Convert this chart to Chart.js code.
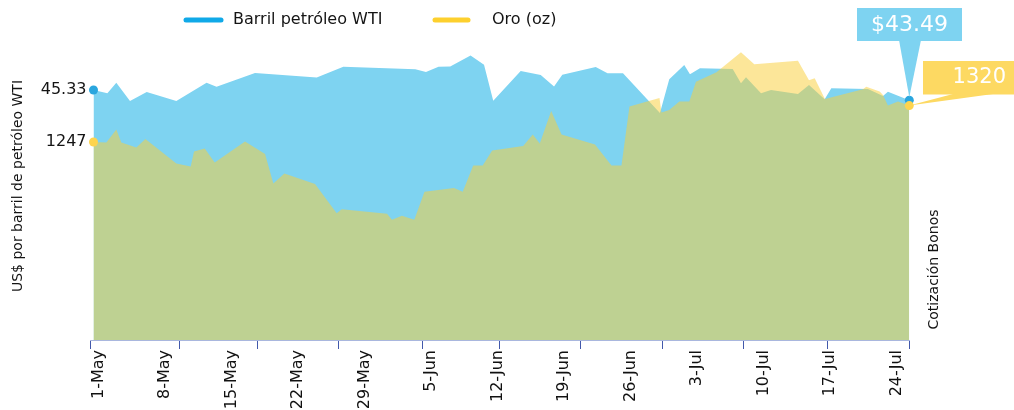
<!DOCTYPE html>
<html><head><meta charset="utf-8">
<script src="https://cdn.jsdelivr.net/npm/chart.js@4/dist/chart.umd.min.js"></script>
<style>html,body{margin:0;padding:0;background:#fff}#wrap{width:1014px;height:410px;position:relative}</style>
</head><body><div id="wrap"><canvas id="c" width="1014" height="410"></canvas></div>
<script>
// x values are days counted from 1-May
const tickLabels = ['1-May','8-May','15-May','22-May','29-May','5-Jun','12-Jun','19-Jun','26-Jun','3-Jul','10-Jul','17-Jul','24-Jul'];
const labelDays = [0, 7, 14, 21, 28, 35, 42, 49, 56, 63, 70, 77, 84];
const tickMarkDays = [-0.92, 8.48, 16.69, 25.29, 34.06, 42.17, 50.7, 59.35, 67.92, 76.73, 85.33];

const wtiDays = [-0.55, 0.91, 1.85, 3.29, 5.05, 8.17, 11.35, 12.4, 16.45, 22.95, 25.75, 33.33, 34.45, 35.77, 37.0, 39.14, 40.56, 41.53, 44.42, 46.53, 47.93, 48.8, 52.32, 53.56, 55.19, 59.08, 60.06, 61.64, 62.24, 63.29, 66.74, 67.61, 68.14, 69.72, 70.77, 73.61, 74.77, 76.42, 77.12, 80.98, 82.56, 83.08, 85.33];
const wtiValues = [45.33, 44.73, 46.65, 43.34, 44.97, 43.34, 46.65, 45.93, 48.41, 47.60, 49.56, 49.08, 48.59, 49.56, 49.59, 51.59, 49.92, 43.37, 48.78, 48.05, 45.97, 48.11, 49.50, 48.36, 48.36, 41.16, 47.27, 49.86, 48.18, 49.27, 49.14, 46.55, 47.63, 44.73, 45.33, 44.61, 46.24, 43.64, 45.64, 45.51, 44.24, 45.02, 43.49];

const goldDays = [-0.55, 0.8, 1.85, 2.38, 3.96, 4.91, 8.17, 9.68, 10.03, 11.16, 12.21, 15.4, 17.51, 18.38, 19.54, 22.77, 25.05, 25.58, 30.35, 30.87, 31.92, 33.22, 34.29, 37.4, 38.32, 39.42, 40.42, 41.42, 44.68, 45.69, 46.43, 47.63, 48.72, 52.24, 53.98, 55.03, 55.87, 59.03, 59.24, 60.06, 61.12, 62.17, 62.87, 65.03, 67.61, 69.01, 73.61, 74.77, 75.37, 76.45, 80.45, 80.8, 82.21, 82.56, 83.08, 84.14, 85.33];
const goldValues = [1247, 1246, 1272, 1246, 1236, 1253, 1204, 1198, 1228, 1234, 1206, 1248, 1223, 1164, 1184, 1163, 1104, 1112, 1103, 1091, 1099, 1091, 1147, 1155, 1147, 1200, 1200, 1230, 1239, 1262, 1244, 1309, 1262, 1242, 1200, 1200, 1318, 1335, 1306, 1311, 1328, 1328, 1368, 1387, 1427, 1403, 1410, 1371, 1375, 1333, 1353, 1358, 1348, 1341, 1320, 1328, 1320];

const seriesNames = ['Barril petróleo WTI', 'Oro (oz)'];
const leftTitle = 'US$ por barril de petróleo WTI';
const rightTitle = 'Cotización Bonos';

const FONT = 'DejaVu Sans';
const BLUE_AREA = 'rgb(126,211,241)';
const GOLD_AREA = 'rgba(250,208,60,0.52)';

const toPts = (xs, ys) => xs.map((x, i) => ({x: x, y: ys[i]}));
const endRadius = (n) => (ctx) => (ctx.dataIndex === 0 || ctx.dataIndex === n - 1) ? 4.5 : 0;

const decor = {
  id: 'decor',
  afterDraw(chart) {
    const ctx = chart.ctx;
    const goldMeta = chart.getDatasetMeta(0).data;
    const wtiMeta = chart.getDatasetMeta(1).data;
    ctx.save();
    // legend
    ctx.lineCap = 'round';
    ctx.lineWidth = 5;
    ctx.strokeStyle = '#10a9e8';
    ctx.beginPath(); ctx.moveTo(186, 20); ctx.lineTo(221, 20); ctx.stroke();
    ctx.strokeStyle = '#fdd02e';
    ctx.beginPath(); ctx.moveTo(435, 20); ctx.lineTo(468, 20); ctx.stroke();
    ctx.fillStyle = '#141414';
    ctx.font = '16px "' + FONT + '"';
    ctx.textBaseline = 'middle';
    ctx.textAlign = 'left';
    ctx.fillText(seriesNames[0], 233, 20);
    ctx.fillText(seriesNames[1], 492, 20);
    // first-value labels
    ctx.textAlign = 'right';
    const w0 = wtiMeta[0], g0 = goldMeta[0];
    ctx.fillText(wtiValues[0].toFixed(2), w0.x - 7, w0.y);
    ctx.fillText(String(goldValues[0]), g0.x - 7, g0.y);
    // axis titles
    ctx.font = '14px "' + FONT + '"';
    ctx.textAlign = 'center';
    ctx.save(); ctx.translate(18.5, 186); ctx.rotate(-Math.PI / 2); ctx.fillText(leftTitle, 0, 0); ctx.restore();
    ctx.save(); ctx.translate(934, 269.5); ctx.rotate(-Math.PI / 2); ctx.fillText(rightTitle, 0, 0); ctx.restore();
    // callouts
    const wl = wtiMeta[wtiMeta.length - 1], gl = goldMeta[goldMeta.length - 1];
    ctx.fillStyle = BLUE_AREA;
    ctx.fillRect(857, 8, 105, 33);
    ctx.beginPath(); ctx.moveTo(899, 40); ctx.lineTo(921, 40); ctx.lineTo(wl.x, wl.y - 3); ctx.closePath(); ctx.fill();
    ctx.fillStyle = '#fdd962';
    ctx.fillRect(923, 61, 91, 33.5);
    ctx.beginPath(); ctx.moveTo(953, 94); ctx.lineTo(993, 94); ctx.lineTo(gl.x, gl.y); ctx.closePath(); ctx.fill();
    ctx.fillStyle = '#ffffff';
    ctx.font = '22px "' + FONT + '"';
    ctx.textAlign = 'center';
    ctx.fillText('$' + wtiValues[wtiValues.length - 1].toFixed(2), 909.5, 25);
    ctx.font = '21px "' + FONT + '"';
    ctx.textAlign = 'right';
    ctx.fillText(String(goldValues[goldValues.length - 1]), 1006, 78);
    ctx.restore();
  }
};

Chart.defaults.font.family = FONT;

new Chart(document.getElementById('c'), {
  type: 'line',
  data: {
    datasets: [
      {
        label: seriesNames[1],
        data: toPts(goldDays, goldValues),
        yAxisID: 'yg',
        fill: 'start',
        backgroundColor: GOLD_AREA,
        borderWidth: 0,
        borderColor: 'rgba(0,0,0,0)',
        tension: 0,
        clip: false,
        pointRadius: endRadius(goldValues.length),
        pointBackgroundColor: '#fdd44e',
        pointBorderWidth: 0,
        pointHoverRadius: 0
      },
      {
        label: seriesNames[0],
        data: toPts(wtiDays, wtiValues),
        yAxisID: 'yb',
        fill: 'start',
        backgroundColor: BLUE_AREA,
        borderWidth: 0,
        borderColor: 'rgba(0,0,0,0)',
        tension: 0,
        clip: false,
        pointRadius: endRadius(wtiValues.length),
        pointBackgroundColor: '#2aa6de',
        pointBorderWidth: 0,
        pointHoverRadius: 0
      }
    ]
  },
  options: {
    responsive: false,
    animation: false,
    devicePixelRatio: 1,
    events: [],
    layout: { padding: { left: 90, right: 104.7, top: 40, bottom: 0 } },
    plugins: { legend: { display: false }, tooltip: { enabled: false } },
    scales: {
      x: {
        type: 'linear',
        min: -0.92,
        max: 85.33,
        bounds: 'data',
        afterBuildTicks: (s) => {
          s.ticks = labelDays.map(v => ({value: v})).concat(tickMarkDays.map(v => ({value: v})));
        },
        afterFit: (s) => { s.height = 70; },
        ticks: {
          autoSkip: false,
          minRotation: 90,
          maxRotation: 90,
          padding: 1,
          color: '#111',
          font: { family: FONT, size: 16 },
          callback: (v, i) => i < tickLabels.length ? tickLabels[i] : ''
        },
        grid: {
          drawOnChartArea: false,
          drawTicks: true,
          tickLength: 9,
          tickWidth: 1,
          tickColor: (c) => c.index >= tickLabels.length ? '#4258ab' : 'rgba(0,0,0,0)'
        },
        border: { display: true, color: '#a9b7de', width: 1 }
      },
      yb: { position: 'left', display: false, min: 0, max: 54.4 },
      yg: { position: 'right', display: false, min: 850, max: 1451.5 }
    }
  },
  plugins: [decor]
});
</script>
</body></html>
